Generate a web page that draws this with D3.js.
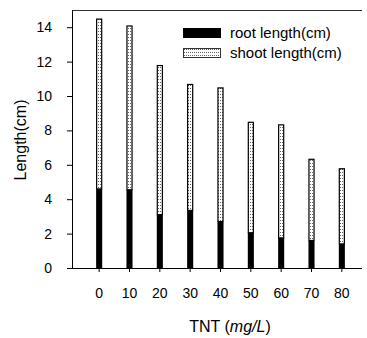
<!DOCTYPE html>
<html>
<head>
<meta charset="utf-8">
<script src="https://cdn.jsdelivr.net/npm/d3@7"></script>
<style>
  body { margin: 0; background: #fff; }
  svg { display: block; font-family: "Liberation Sans", Arial, sans-serif; }
</style>
</head>
<body>
<script>
// data
const doses = ["0", "10", "20", "30", "40", "50", "60", "70", "80"];
const rootLength = [4.6, 4.55, 3.1, 3.35, 2.7, 2.05, 1.75, 1.6, 1.4];
const totalLength = [14.5, 14.1, 11.8, 10.7, 10.5, 8.5, 8.35, 6.35, 5.8];
const yTicks = [0, 2, 4, 6, 8, 10, 12, 14];
const legendLabels = ["root length(cm)", "shoot length(cm)"];

const width = 367, height = 338;
const plot = { left: 72, right: 362, top: 10, bottom: 268 };

const svg = d3.select("body").append("svg")
    .attr("width", width)
    .attr("height", height);

const defs = svg.append("defs");
const pat = defs.append("pattern")
    .attr("id", "shoot")
    .attr("patternUnits", "userSpaceOnUse")
    .attr("width", 4)
    .attr("height", 3);
pat.append("rect").attr("width", 4).attr("height", 3).attr("fill", "#fff");
pat.append("line")
    .attr("x1", 0).attr("x2", 4).attr("y1", 1.5).attr("y2", 1.5)
    .attr("stroke", "#666").attr("stroke-width", 1)
    .attr("stroke-dasharray", "1,1");

const x = d3.scaleBand().domain(doses).range([84, 357]);
const y = d3.scaleLinear().domain([0, 15]).range([plot.bottom, plot.top]);
const barW = x.bandwidth() * 0.2;

// frame: top line
svg.append("line")
    .attr("x1", plot.left).attr("x2", plot.right)
    .attr("y1", plot.top + 0.5).attr("y2", plot.top + 0.5)
    .attr("stroke", "#333").attr("stroke-width", 1);

// bars
const g = svg.append("g");
g.selectAll("rect.root")
    .data(doses)
    .join("rect")
    .attr("class", "root")
    .attr("x", d => x(d) + x.bandwidth() / 2 - barW / 2)
    .attr("width", barW)
    .attr("y", (d, i) => y(rootLength[i]))
    .attr("height", (d, i) => y(0) - y(rootLength[i]))
    .attr("fill", "#000");

g.selectAll("rect.shoot")
    .data(doses)
    .join("rect")
    .attr("class", "shoot")
    .attr("x", d => x(d) + x.bandwidth() / 2 - barW / 2 + 0.5)
    .attr("width", barW - 1)
    .attr("y", (d, i) => y(totalLength[i]) + 0.5)
    .attr("height", (d, i) => y(rootLength[i]) - y(totalLength[i]) - 0.5)
    .attr("fill", "url(#shoot)")
    .attr("stroke", "#000")
    .attr("stroke-width", 1.2);

// axes
const xAxis = svg.append("g")
    .attr("transform", `translate(0,${plot.bottom})`)
    .call(d3.axisBottom(x).tickSize(4).tickPadding(16).tickSizeOuter(0));
xAxis.select(".domain").remove();
xAxis.append("line")
    .attr("x1", plot.left).attr("x2", plot.right)
    .attr("y1", 0.5).attr("y2", 0.5)
    .attr("stroke", "#000");
xAxis.selectAll("text").attr("font-size", 14).attr("fill", "#000");

const yAxis = svg.append("g")
    .attr("transform", `translate(${plot.left},0)`)
    .call(d3.axisLeft(y).tickValues(yTicks).tickSize(5).tickPadding(15).tickSizeOuter(0));
yAxis.select(".domain").attr("d", `M0.5,${plot.bottom}V${plot.top}`);
yAxis.selectAll("text").attr("font-size", 14).attr("fill", "#000");

// axis titles
svg.append("text")
    .attr("transform", `translate(26,140) rotate(-90)`)
    .attr("text-anchor", "middle")
    .attr("font-size", 16)
    .text("Length(cm)");

const xt = svg.append("text")
    .attr("x", 230).attr("y", 332)
    .attr("text-anchor", "middle")
    .attr("font-size", 16);
xt.append("tspan").text("TNT (");
xt.append("tspan").attr("font-style", "italic").text("mg/L");
xt.append("tspan").text(")");

// legend
const legend = svg.append("g");
legend.append("rect")
    .attr("x", 183).attr("y", 28).attr("width", 38).attr("height", 10)
    .attr("fill", "#000");
legend.append("rect")
    .attr("x", 183.5).attr("y", 48.5).attr("width", 37).attr("height", 9)
    .attr("fill", "url(#shoot)").attr("stroke", "#333");
legend.selectAll("text")
    .data(legendLabels)
    .join("text")
    .attr("x", 230)
    .attr("y", (d, i) => 38 + i * 20)
    .attr("font-size", 15)
    .text(d => d);
</script>
</body>
</html>
